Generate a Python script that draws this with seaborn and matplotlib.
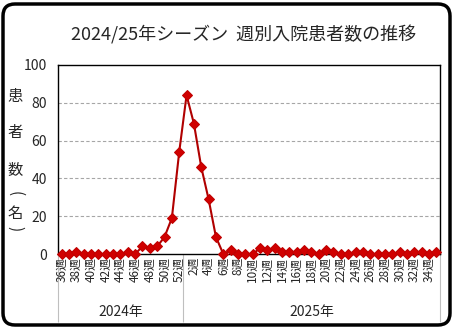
import pandas as pd
import seaborn as sns
import numpy as np
import matplotlib.pyplot as plt
from matplotlib.patches import FancyBboxPatch
import matplotlib.transforms as mtransforms

# weekly hospitalised patients, 2024 wk36-52 then 2025 wk1-35
weeks_2024 = list(range(36, 53))
cases_2024 = [0, 0, 1, 0, 0, 0, 0, 0, 0, 1, 0, 4, 3, 4, 9, 19, 54]
weeks_2025 = list(range(1, 36))
cases_2025 = [84, 69, 46, 29, 9, 0, 2, 0, 0, 0,
              3, 2, 3, 1, 1, 1, 2, 1, 0, 2,
              1, 0, 0, 1, 1, 0, 0, 0, 0, 1,
              0, 1, 1, 0, 1]
years = ["2024年", "2025年"]
title = "2024/25年シーズン  週別入院患者数の推移"
ylabel_chars = ["患", "者", "数", "(", "名", ")"]

df = pd.DataFrame({
    "week": weeks_2024 + weeks_2025,
    "cases": cases_2024 + cases_2025,
    "year": [years[0]] * len(weeks_2024) + [years[1]] * len(weeks_2025),
})
df["pos"] = np.arange(len(df))

sns.set_style("white")
plt.rcParams['font.family'] = ['Noto Sans CJK JP', 'DejaVu Sans']

fig = plt.figure(figsize=(4.54, 3.28), dpi=100)
ax = fig.add_axes([58 / 454, 74 / 328, 382 / 454, 189 / 328])

for y in [20, 40, 60, 80]:
    ax.axhline(y, color="#a6a6a6", lw=0.8, ls=(0, (3, 2)), zorder=0)

sns.lineplot(data=df, x="pos", y="cases", ax=ax, color="#b00000", lw=1.5,
             marker="D", markersize=5, markerfacecolor="#d00000",
             markeredgecolor="#c00000", clip_on=False, zorder=3)

ax.set_xlim(-0.5, len(df) - 0.5)
ax.set_ylim(0, 100)
ax.set_yticks(range(0, 101, 20))
ax.tick_params(axis="y", length=0, pad=8, labelsize=10)

# week labels every other week
major = df["pos"][::2]
ax.set_xticks(major)
ax.set_xticklabels([f"{w}週" for w in df["week"][::2]], rotation=90, fontsize=8.5)
ax.set_xticks(np.arange(-0.5, len(df), 1), minor=True)
ax.tick_params(axis="x", which="major", length=0, pad=2)
ax.tick_params(axis="x", which="minor", length=28, color="#bfbfbf", width=0.8)
ax.set_xlabel("")
ax.set_ylabel("")

# year group boundaries and labels
sec = ax.secondary_xaxis("bottom")
n24 = len(weeks_2024)
sec.set_xticks([-0.5, n24 - 0.5, len(df) - 0.5])
sec.tick_params(length=49, color="#bfbfbf", width=0.8, labelbottom=False)
for s in sec.spines.values():
    s.set_visible(False)

trans = mtransforms.blended_transform_factory(ax.transData, fig.transFigure)
for yr, grp in df.groupby("year"):
    ax.text(grp["pos"].mean(), 16 / 328, yr, transform=trans,
            ha="center", va="center", fontsize=10)

for s in ax.spines.values():
    s.set_color("black")
    s.set_linewidth(1)

fig.text(0.537, 1 - 35 / 328, title, ha="center", va="center", fontsize=13)

ys = [97, 132, 170, 194, 213, 229]
rots = [0, 0, 0, -90, 0, -90]
for ch, yp, r in zip(ylabel_chars, ys, rots):
    fig.text(15 / 454, 1 - yp / 328, ch, ha="center", va="center",
             fontsize=11, rotation=r)

fig.patches.append(FancyBboxPatch((3, 3), 447, 321,
                                  boxstyle="round,pad=0,rounding_size=12",
                                  transform=None, fc="none", ec="black", lw=2.5))

fig.savefig("out.png", dpi=100)
